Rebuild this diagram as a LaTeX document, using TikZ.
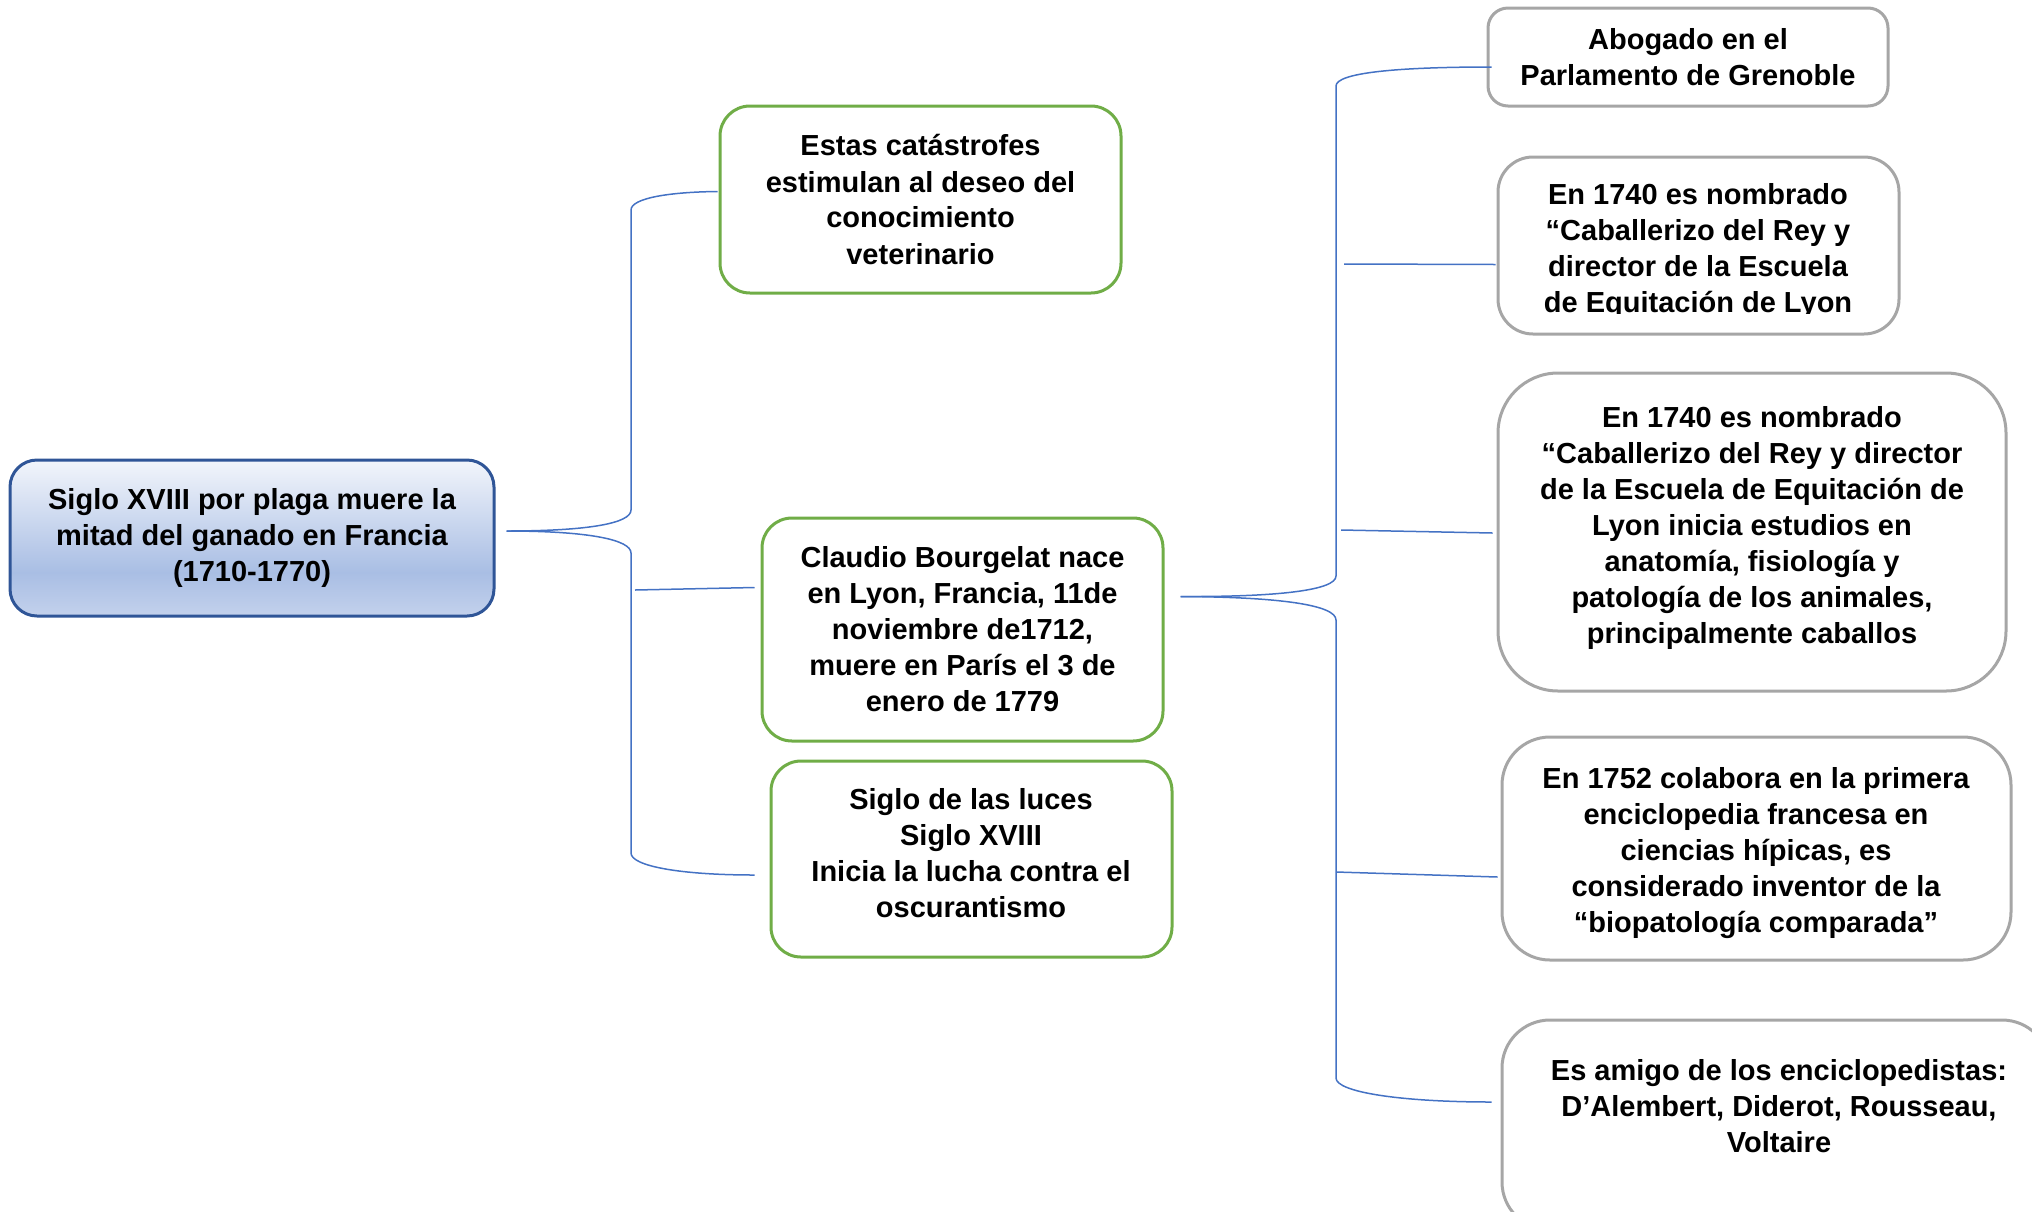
\documentclass[tikz,border=0pt]{standalone}
\usepackage{fontspec}
\setmainfont{Liberation Sans}
\usepackage{tikz}
\usetikzlibrary{positioning,calc}

\definecolor{bordeazul}{HTML}{2F5597}
\definecolor{verdeborde}{HTML}{70AD47}
\definecolor{grisborde}{HTML}{A6A6A6}
\definecolor{azulrama}{HTML}{4472C4}
\definecolor{raizc}{HTML}{C3D1EC}
\definecolor{raizb}{HTML}{A9BEE4}
\definecolor{raiza}{HTML}{F2F5FB}
\pgfdeclareverticalshading{raizgrad}{100bp}{color(0bp)=(raizc); color(25bp)=(raizc); color(39bp)=(raizb); color(75bp)=(raiza); color(100bp)=(raiza)}

\tikzset{
  texto/.style={align=center, inner sep=0pt, font=\fontsize{29}{36}\selectfont\bfseries},
  caja/.style={texto, draw, line width=3pt, rounded corners=30pt},
  verde/.style={caja, draw=verdeborde, fill=white, minimum width=401pt},
  gris/.style={caja, draw=grisborde, fill=white},
  rama/.style={draw=azulrama, line width=1.5pt}
}

\begin{document}
\begin{tikzpicture}[x=1pt,y=-1pt]
        \useasboundingbox (0,0) rectangle (2032,1211);
        \clip (0,0) rectangle (2032,1211);
        % tema central
        \node[caja, draw=bordeazul, shading=raizgrad, rounded corners=27pt, minimum width=484pt, minimum height=156pt] (raiz) at (252,538)
          {Siglo XVIII por plaga muere la\\mitad del ganado en Francia\\(1710-1770)};
        % segundo nivel
        \node[verde, minimum height=187pt] (cat) at (920.5,199.5)
          {Estas catástrofes\\estimulan al deseo del\\conocimiento\\veterinario};
        \node[verde, minimum height=223pt] (bour) at (962.5,629.5)
          {Claudio Bourgelat nace\\en Lyon, Francia, 11de\\noviembre de1712,\\muere en París el 3 de\\enero de 1779};
        \node[verde, minimum height=196pt] (luces) at (971.5,859) {};
        \node[texto] (lucestxt) at (971,853)
          {Siglo de las luces\\Siglo XVIII\\Inicia la lucha contra el\\oscurantismo};
        % tercer nivel
        \node[gris, rounded corners=20pt, minimum width=400pt, minimum height=98pt] (abog) at (1688,57)
          {Abogado en el\\Parlamento de Grenoble};
        \node[gris, rounded corners=35pt, minimum width=401pt, minimum height=177pt] (cab) at (1698.5,245.5) {};
        \begin{scope}
          \clip (1500,159) rectangle (1897,313);
          \node[texto] (cabtxt) at (1698,251)
            {En 1740 es nombrado\\“Caballerizo del Rey y\\director de la Escuela\\de Equitación de Lyon};
        \end{scope}
        \node[gris, rounded corners=60pt, minimum width=508pt, minimum height=318pt] (estud) at (1752,532) {};
        \node[texto] (estudtxt) at (1752,528)
          {En 1740 es nombrado\\“Caballerizo del Rey y director\\de la Escuela de Equitación de\\Lyon inicia estudios en\\anatomía, fisiología y\\patología de los animales,\\principalmente caballos};
        \node[gris, rounded corners=48pt, minimum width=509pt, minimum height=223pt] (encic) at (1756.5,848.5) {};
        \node[texto] (encictxt) at (1756,853)
          {En 1752 colabora en la primera\\enciclopedia francesa en\\ciencias hípicas, es\\considerado inventor de la\\“biopatología comparada”};
        \node[gris, rounded corners=48pt, minimum width=548pt, minimum height=210pt] (amigo) at (1776,1125) {};
        \node[texto] (amigotxt) at (1779,1106)
          {Es amigo de los enciclopedistas:\\D’Alembert, Diderot, Rousseau,\\Voltaire};
        % llaves
        \coordinate (s0) at ($(raiz.east)+(11,-7)$);
        \draw[rama] (s0) .. controls (590,531) and (631,523) .. (631,510) -- (631,210)
          .. controls (631,198) and (670,192) .. ($(cat.west)+(-1,-8)$);
        \draw[rama] (s0) .. controls (590,531) and (631,540) .. (631,553) -- (631,853)
          .. controls (631,866) and (680,875) .. ($(luces.west)+(-15,16)$);
        \draw[rama] (635,590) -- ($(bour.west)+(-6,-42)$);
        \coordinate (s1) at ($(bour.east)+(16,-33)$);
        \draw[rama] (s1) .. controls (1280,597) and (1336,590) .. (1336,576) -- (1336,86)
          .. controls (1336,73) and (1395,67) .. ($(abog.west)+(5,10)$);
        \draw[rama] (s1) .. controls (1280,597) and (1336,605) .. (1336,620) -- (1336,1078)
          .. controls (1336,1092) and (1400,1102) .. ($(amigo.west)+(-9,-23)$);
        \draw[rama] (1344,264) -- ($(cab.west)+(-1,19)$);
        \draw[rama] (1341,530) -- ($(estud.west)+(-4,1)$);
        \draw[rama] (1336,872) -- ($(encic.west)+(-3,28.5)$);
\end{tikzpicture}
\end{document}
